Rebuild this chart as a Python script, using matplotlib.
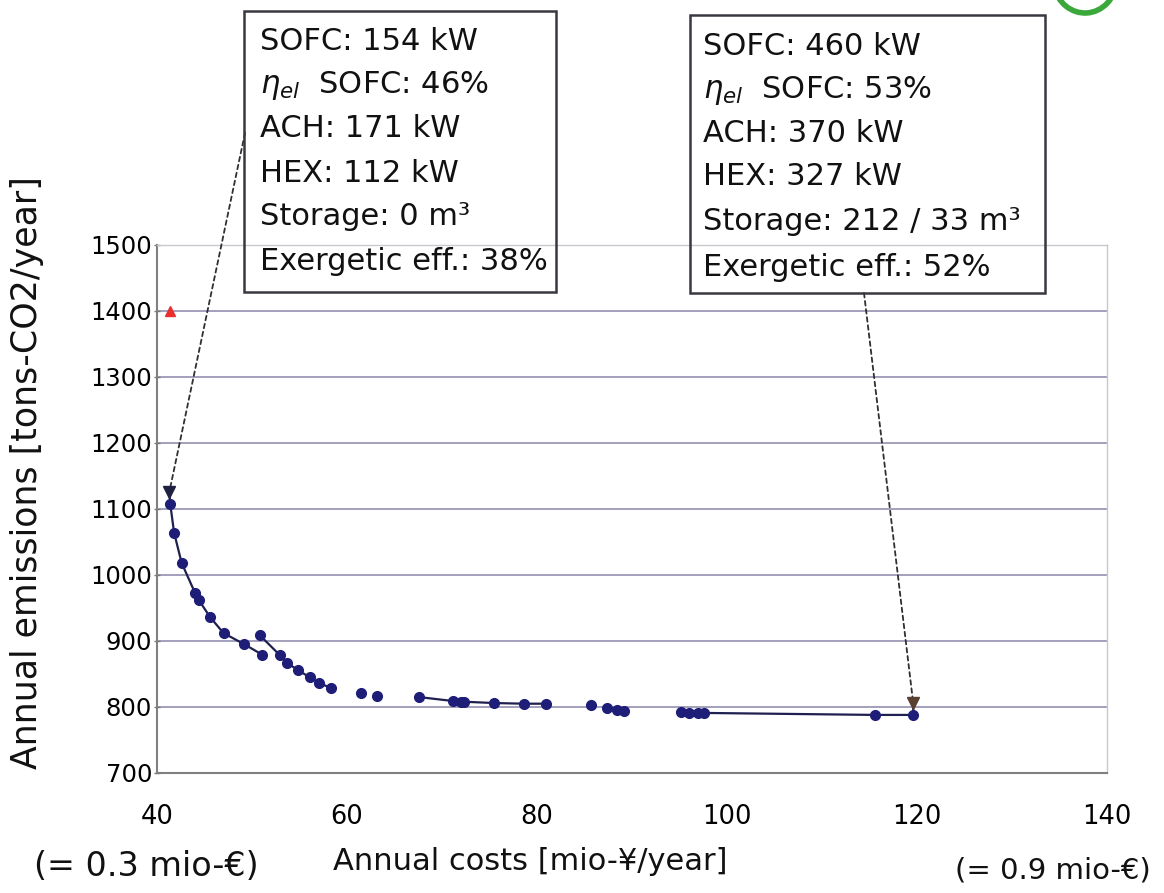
import matplotlib
matplotlib.use("Agg")
import matplotlib.pyplot as plt
from matplotlib.patches import Rectangle, Arc
import numpy as np

# ---------------- data ----------------
cost = [41.4, 41.8, 42.6, 44.0, 44.4, 45.6, 47.0, 49.2, 50.8, 51.1, 52.9, 53.7,
        54.8, 56.1, 57.1, 58.3, 61.5, 63.2, 67.6, 71.2, 72.0, 72.3, 75.5, 78.6,
        80.9, 85.7, 87.4, 88.4, 89.2, 95.2, 96.0, 96.9, 97.6, 115.6, 119.6]
emis = [1107, 1064, 1018, 973, 962, 936, 912, 895, 909, 879, 879, 867,
        856, 845, 836, 829, 821, 817, 815, 809, 808, 808, 806, 805,
        805, 803, 798, 795, 794, 792, 791, 791, 791, 788, 788]

front1_cost = [41.3, 41.4, 41.8, 42.6, 44.0, 44.4, 45.6, 47.0, 49.2, 51.1]
front1_emis = [1126, 1107, 1064, 1018, 973, 962, 936, 912, 895, 879]
front2_cost = [50.8, 52.9, 53.7, 54.8, 56.1, 57.1, 58.3]
front2_emis = [909, 879, 867, 856, 845, 836, 829]
front3_cost = [67.6, 71.2, 72.3, 75.5, 78.6, 80.9]
front3_emis = [815, 809, 808, 806, 805, 805]
front4_cost = [95.2, 97.6, 115.6, 119.6, 119.6]
front4_emis = [792, 791, 788, 788, 806]

selected_cost = [41.3, 119.6]
selected_emis = [1126, 806]
reference_cost = [41.4]
reference_emis = [1400]

xticks = [40, 60, 80, 100, 120, 140]
yticks = [700, 800, 900, 1000, 1100, 1200, 1300, 1400, 1500]

box1_lines = ["SOFC: 154 kW", r"$\eta_{el}$  SOFC: 46%", "ACH: 171 kW",
              "HEX: 112 kW", "Storage: 0 m³", "Exergetic eff.: 38%"]
box2_lines = ["SOFC: 460 kW", r"$\eta_{el}$  SOFC: 53%", "ACH: 370 kW",
              "HEX: 327 kW", "Storage: 212 / 33 m³", "Exergetic eff.: 52%"]

# ---------------- figure ----------------
W, H = 1164, 893
plt.rcParams['font.family'] = ['DejaVu Sans']
plt.rcParams['mathtext.fontset'] = 'dejavusans'
fig = plt.figure(figsize=(W / 100, H / 100), dpi=100)
fig.patch.set_facecolor('white')


def fx(x):
    return x / W


def fy(y):
    return 1 - y / H


ax_l, ax_r, ax_t, ax_b = 157, 1107, 245, 773
ax = fig.add_axes([fx(ax_l), fy(ax_b), (ax_r - ax_l) / W, (ax_b - ax_t) / H])
ax.set_xlim(40, 140)
ax.set_ylim(700, 1500)
ax.set_xticks(xticks)
ax.set_yticks(yticks)
ax.tick_params(axis='y', labelsize=17.5, length=5, width=1, color='#777777',
               direction='inout', pad=1)
ax.tick_params(axis='x', labelsize=18.5, length=0, pad=22)
for s in ['top', 'right']:
    ax.spines[s].set_color('#c8c8d0')
    ax.spines[s].set_linewidth(1.0)
for s in ['left', 'bottom']:
    ax.spines[s].set_color('#808080')
    ax.spines[s].set_linewidth(1.5)
ax.grid(axis='y', color='#9c99b8', linewidth=1.3)
ax.set_axisbelow(True)

navy = '#1e1e78'
for fc, fe in [(front1_cost, front1_emis), (front2_cost, front2_emis),
               (front3_cost, front3_emis), (front4_cost, front4_emis)]:
    ax.plot(fc, fe, color='#202050', linewidth=1.6, zorder=3)
ax.plot(cost, emis, linestyle='none', marker='o', markersize=7,
        color=navy, markeredgecolor=navy, zorder=4)
ax.plot(selected_cost[:1], selected_emis[:1], linestyle='none', marker='v',
        markersize=8.5, color='#202040', zorder=5)
ax.plot(selected_cost[1:], selected_emis[1:], linestyle='none', marker='v',
        markersize=8.5, color='#5a4030', zorder=5)
ax.plot(reference_cost, reference_emis, linestyle='none', marker='^',
        markersize=7, color='#e83030', zorder=5)

# ---------------- annotation boxes ----------------
def draw_box(x0, y0, x1, y1, tx, baselines, lines):
    fig.patches.append(Rectangle((fx(x0), fy(y1)), (x1 - x0) / W, (y1 - y0) / H,
                                 transform=fig.transFigure, facecolor='none',
                                 edgecolor='#383840', linewidth=1.8, zorder=10))
    for b, s in zip(baselines, lines):
        fig.text(fx(tx), fy(b), s, fontsize=22, va='baseline', ha='left',
                 color='#111111')


draw_box(244, 11, 556, 292, 260, [50, 93, 137, 182, 225, 270], box1_lines)
draw_box(690, 15, 1045, 293, 703, [55, 98, 142, 185, 230, 276], box2_lines)

arrow = dict(arrowstyle='-', linestyle=(0, (2.5, 2)), color='#303030', lw=1.3,
             shrinkA=0, shrinkB=4)
ax.annotate('', xy=(selected_cost[0], selected_emis[0]), xycoords='data',
            xytext=(fx(245), fy(133)), textcoords='figure fraction',
            arrowprops=arrow, annotation_clip=False)
ax.annotate('', xy=(selected_cost[1], selected_emis[1]), xycoords='data',
            xytext=(fx(864), fy(293)), textcoords='figure fraction',
            arrowprops=arrow, annotation_clip=False)

# ---------------- axis titles ----------------
fig.text(fx(27), fy(473), "Annual emissions [tons-CO2/year]", rotation=90,
         fontsize=25, ha='center', va='center', color='#111111')
fig.text(fx(530), fy(862), "Annual costs [mio-¥/year]", fontsize=22,
         ha='center', va='center', color='#111111')
fig.text(fx(146), fy(866), "(= 0.3 mio-€)", fontsize=24, ha='center',
         va='center', color='#111111')
fig.text(fx(1053), fy(870), "(= 0.9 mio-€)", fontsize=21, ha='center',
         va='center', color='#111111')

# small green logo fragment, top right
fig.patches.append(Arc((fx(1085), fy(-22)), 64 / W, 70 / H, theta1=200, theta2=350,
                       transform=fig.transFigure, color='#3aa83a', lw=4))

fig.savefig('out.png', dpi=100)
